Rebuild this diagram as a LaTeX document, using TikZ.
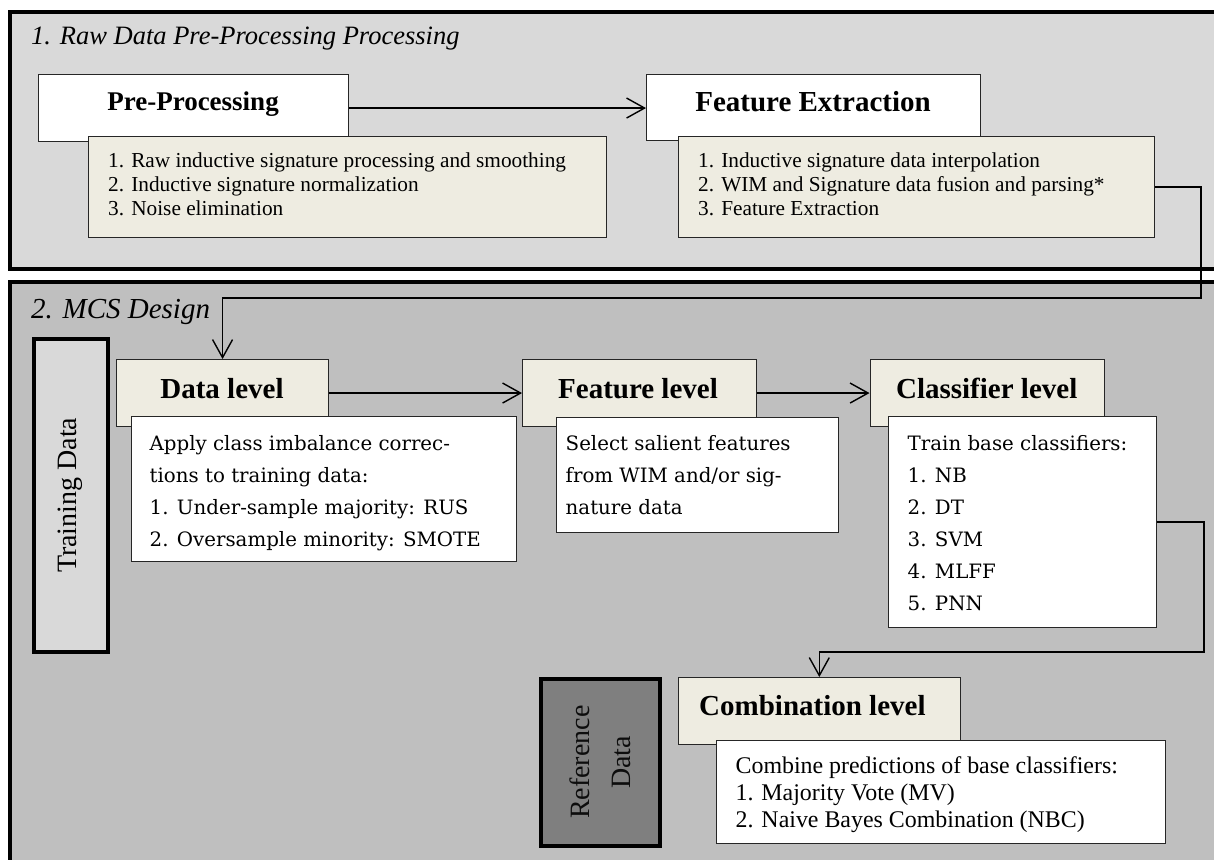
\documentclass[tikz,border=0pt]{standalone}
\usepackage{fontspec}
\setmainfont{Liberation Serif}
\newfontfamily\cambfont{DejaVu Serif}
\usetikzlibrary{arrows.meta}

\definecolor{paneA}{HTML}{D9D9D9}
\definecolor{paneB}{HTML}{BFBFBF}
\definecolor{beige}{HTML}{EEECE1}
\definecolor{refgray}{HTML}{7F7F7F}

\tikzset{
  pane/.style={draw=black, line width=4pt, fill=#1},
  box/.style={draw=black!85, line width=1.1pt, fill=#1, anchor=north west,
    inner sep=0pt},
  databox/.style={draw=black, line width=3.5pt, fill=#1, anchor=north west,
    inner sep=0pt},
  ttl/.style={anchor=base, inner sep=0pt,
    font=\fontsize{#1}{#1}\selectfont\bfseries},
  sect/.style={anchor=base west, inner sep=0pt,
    font=\fontsize{#1}{#1}\selectfont\itshape},
  tlist/.style={anchor=base west, inner sep=0pt,
    font=\fontsize{21.3}{24}\selectfont},
  clist/.style={anchor=base west, inner sep=0pt,
    font=\cambfont\fontsize{19.8}{32}\selectfont},
  conn/.style={draw=black, line width=1.4pt},
  arr/.style={conn, -{Straight Barb[length=18pt,width=20pt]}},
}

\begin{document}
\begin{tikzpicture}[x=1pt, y=-1pt]
  \useasboundingbox (0,0) rectangle (1214,859);
  \clip (0,0) rectangle (1214,859);

  % two section panels
  \path[pane=paneA] (10,12) rectangle (1240,269);
  \path[pane=paneB] (10,282) rectangle (1240,900);

  \node[sect=26.5] (t1) at (31,45) {1. Raw Data Pre-Processing Processing};
  \node[sect=29] (t2) at (31,318) {2. MCS Design};

  % section 1
  \node[box=white, minimum width=310pt, minimum height=67pt] (pp) at (38,74) {};
  \node[box=beige, minimum width=518pt, minimum height=101pt] (ppd) at (88,136) {};
  \node[box=white, minimum width=334pt, minimum height=66pt] (fe) at (646,74) {};
  \node[box=beige, minimum width=476.5pt, minimum height=101pt] (fed) at (677.5,136) {};

  \node[ttl=27] (ppt) at (193,110) {Pre-Processing};
  \node[ttl=29] (fet) at (813,111) {Feature Extraction};

  \node[tlist] (ppdt) at (108,167) {\begin{tabular}[t]{@{}l@{}}
    1. Raw inductive signature processing and smoothing\\
    2. Inductive signature normalization\\
    3. Noise elimination\end{tabular}};
  \node[tlist] (fedt) at (698,167) {\begin{tabular}[t]{@{}l@{}}
    1. Inductive signature data interpolation\\
    2. WIM and Signature data fusion and parsing*\\
    3. Feature Extraction\end{tabular}};

  % section 2
  \node[databox=paneA, minimum width=74pt, minimum height=313pt] (td) at (32,337) {};
  \node[databox=refgray, minimum width=119pt, minimum height=167pt] (rd) at (539,677) {};
  \node[rotate=90, inner sep=0pt, text=black, font=\fontsize{28}{34}\selectfont]
    (tdt) at (td.center) {Training Data};
  \node[rotate=90, inner sep=0pt, align=center, text=black!95,
    font=\fontsize{28}{41}\selectfont] (rdt) at (rd.center) {Reference\\Data};

  \node[box=beige, minimum width=212pt, minimum height=67pt] (dl) at (116,359) {};
  \node[box=white, minimum width=385.5pt, minimum height=145pt] (dld) at (130.5,416) {};
  \node[box=beige, minimum width=233.5pt, minimum height=67pt] (fl) at (522,359) {};
  \node[box=white, minimum width=282pt, minimum height=115pt] (fld) at (555.5,417) {};
  \node[box=beige, minimum width=234.5pt, minimum height=67pt] (cl) at (869.5,359) {};
  \node[box=white, minimum width=268pt, minimum height=211pt] (cld) at (888,416) {};
  \node[box=beige, minimum width=282.5pt, minimum height=67pt] (cb) at (677.5,677) {};
  \node[box=white, minimum width=449.5pt, minimum height=103pt] (cbd) at (715.5,740) {};

  \node[ttl=29] (dlt) at (222,398) {Data level};
  \node[ttl=29] (flt) at (638,398) {Feature level};
  \node[ttl=29] (clt) at (986.7,398) {Classifier level};
  \node[ttl=29] (cbt) at (812.4,715) {Combination level};

  \node[clist] (dldt) at (149.5,450) {\begin{tabular}[t]{@{}l@{}}
    Apply class imbalance correc-\\
    tions to training data:\\
    1. Under-sample majority: RUS\\
    2. Oversample minority: SMOTE\end{tabular}};
  \node[clist] (fldt) at (565.5,450) {\begin{tabular}[t]{@{}l@{}}
    Select salient features\\
    from WIM and/or sig-\\
    nature data\end{tabular}};
  \node[clist] (cldt) at (907.5,450) {\begin{tabular}[t]{@{}l@{}}
    Train base classifiers:\\
    1. NB\\
    2. DT\\
    3. SVM\\
    4. MLFF\\
    5. PNN\end{tabular}};
  \node[anchor=base west, inner sep=0pt, font=\fontsize{23.9}{27}\selectfont]
    (cbdt) at (735.4,773) {\begin{tabular}[t]{@{}l@{}}
    Combine predictions of base classifiers:\\
    1. Majority Vote (MV)\\
    2. Naive Bayes Combination (NBC)\end{tabular}};

  % connectors
  \coordinate (bendA) at (1201,298);
  \coordinate (bendB) at (1204,652);
  \draw[arr] (pp.east) -- (pp.east -| fe.west);
  \draw[arr] (fed.east) -| (bendA) -| (dl.north);
  \draw[arr] (dl.east) -- (fl.west);
  \draw[arr] (fl.east) -- (cl.west);
  \draw[arr] (cld.east) -| (bendB) -| (cb.north);
\end{tikzpicture}
\end{document}
